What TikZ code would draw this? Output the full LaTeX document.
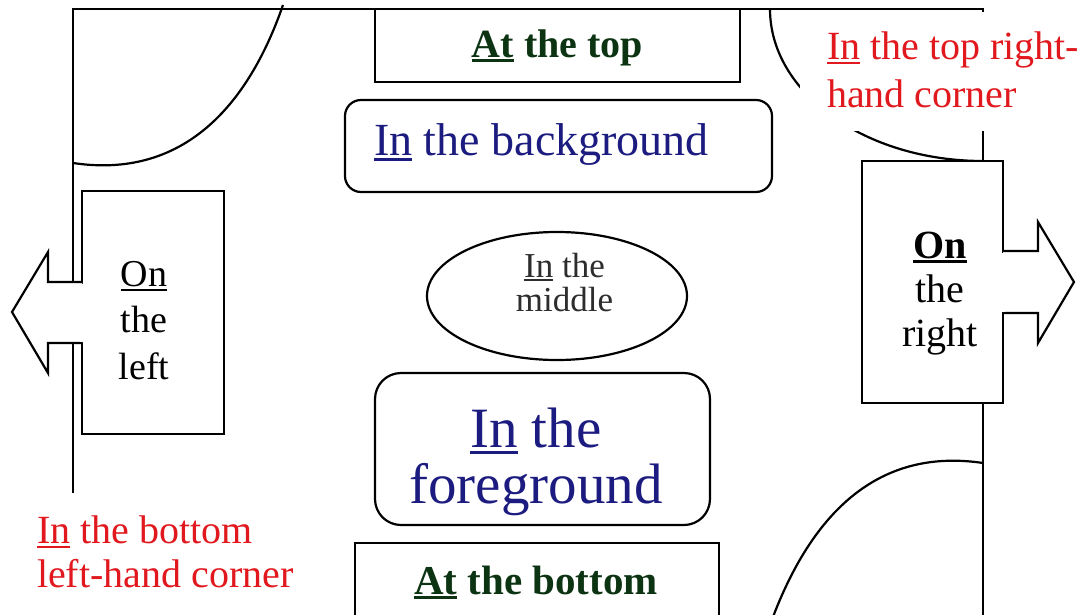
\documentclass[tikz,border=0pt]{standalone}
\usepackage{fontspec}
\setmainfont{Liberation Serif}
\definecolor{navy}{RGB}{28,28,128}
\definecolor{dgreen}{RGB}{12,52,18}
\definecolor{myred}{RGB}{225,25,30}
\definecolor{dgray}{RGB}{45,45,45}
\newcommand\myul[2][0.05em]{\setbox0\hbox{#2}\rlap{\rule[-0.12em]{\wd0}{#1}}\box0\relax}
\newcommand\stk[2][c]{\begin{tabular}[t]{@{}#1@{}}#2\end{tabular}}
\tikzset{
  wall/.style={line width=2.2pt},
  box/.style={draw, fill=white, line width=2.2pt},
  txt/.style={inner sep=0pt, anchor=base},
}
\begin{document}
\begin{tikzpicture}[x=1pt,y=-1pt,line width=2.2pt,line join=miter]
\useasboundingbox (0,0) rectangle (1080,614);
\fill[white] (0,0) rectangle (1080,614);
\begin{scope}
\clip (0,0) rectangle (1080,614);
% walls and door arcs
\draw[wall] (73,493) -- (73,9) -- (983,9) -- (983,625);
\draw[wall] (283,5) .. controls (248,106) and (183,179.5) .. (73,163);
\draw[wall] (770,9) .. controls (770,93) and (865.4,161) .. (983,161);
\draw[wall] (770,625) .. controls (808,520) and (873,446.5) .. (983,463);
\fill[white] (800,12) rectangle (1080,131);
% boxes
\draw[box] (375,9) rectangle (740,82);
\draw[box,rounded corners=16pt] (345,100) rectangle (772,192);
\draw[box] (557,296) ellipse [x radius=130, y radius=64];
\draw[box,rounded corners=26pt] (375,373) rectangle (710,525);
\draw[box] (355,543) rectangle (719,640);
% left box with arrow
\draw[box] (82,191) rectangle (224,434);
\draw[box] (82,282) -- (48,282) -- (48,252) -- (12,312) -- (48,373) -- (48,343) -- (82,343);
\fill[white] (80,283.5) rectangle (86,341.5);
% right box with arrow
\draw[box] (862,161) rectangle (1003,403);
\draw[box] (1003,251) -- (1038,251) -- (1038,222) -- (1074,282) -- (1038,343) -- (1038,313) -- (1003,313);
\fill[white] (998,252.5) rectangle (1005,311.5);
\end{scope}
% texts
\node[txt, text=dgreen, font=\fontsize{40}{44}\selectfont\bfseries] (top) at (557.5,57) {\myul[0.07em]{At} the top};
\node[txt, text=navy, font=\fontsize{46}{50}\selectfont] (bg) at (541.5,155) {\myul{In} the background};
\node[txt, text=dgray, font=\fontsize{35}{33}\selectfont] (mid) at (564.5,277) {\stk{\myul{In} the\\middle}};
\node[txt, text=navy, font=\fontsize{57}{56}\selectfont] (fg) at (536,447) {\stk{\myul{In} the\\foreground}};
\node[txt, text=dgreen, font=\fontsize{41}{44}\selectfont\bfseries] (bot) at (536,594) {\myul[0.07em]{At} the bottom};
\node[txt, font=\fontsize{38}{46.5}\selectfont] (left) at (144,286) {\stk{\myul{On}\\the\\left}};
\node[txt, font=\fontsize{40}{44}\selectfont] (right) at (940,258) {\stk{\textbf{\myul[0.07em]{On}}\\the\\right}};
\node[txt, anchor=base west, text=myred, font=\fontsize{40}{48}\selectfont] (tr) at (826,59) {\stk[l]{\myul{In} the top right-\\hand corner}};
\node[txt, anchor=base west, text=myred, font=\fontsize{40}{44}\selectfont] (bl) at (36,543) {\stk[l]{\myul{In} the bottom\\left-hand corner}};
\end{tikzpicture}
\end{document}
